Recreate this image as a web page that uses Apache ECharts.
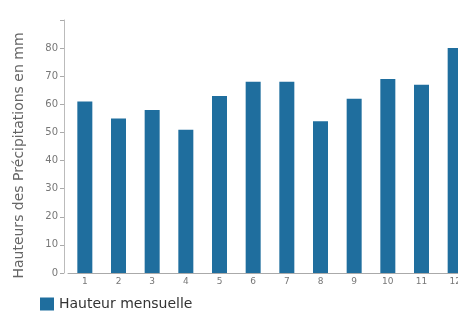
<!DOCTYPE html>
<html>
<head>
<meta charset="utf-8">
<script src="https://cdn.jsdelivr.net/npm/echarts@6/dist/echarts.min.js"></script>
<style>
  html, body { margin: 0; padding: 0; background: #fff; }
  #chart { width: 458px; height: 312px; }
</style>
</head>
<body>
<div id="chart"></div>
<script>
// mois et hauteurs mensuelles (mm)
const months = ['1', '2', '3', '4', '5', '6', '7', '8', '9', '10', '11', '12'];
const rainfall = [61, 55, 58, 51, 63, 68, 68, 54, 62, 69, 67, 80];
const yTicks = [0, 10, 20, 30, 40, 50, 60, 70, 80];

const chart = echarts.init(document.getElementById('chart'));
chart.setOption({
    animation: false,
    textStyle: { fontFamily: 'DejaVu Sans, Liberation Sans, sans-serif' },
    grid: { left: 68, top: 20, bottom: 39, width: 404, outerBoundsMode: 'none', containLabel: false },
    legend: {
        left: 35,
        top: 292,
        icon: 'rect',
        itemWidth: 14,
        itemHeight: 13,
        itemGap: 6,
        textStyle: { fontSize: 14, color: '#333' },
        data: ['Hauteur mensuelle']
    },
    xAxis: {
        type: 'category',
        data: months,
        axisLine: { lineStyle: { color: '#aaa' } },
        axisTick: { show: false },
        axisLabel: { color: '#777', fontSize: 9, margin: 4 }
    },
    yAxis: {
        type: 'value',
        min: 0,
        max: 90,
        interval: 10,
        offset: 4,
        name: 'Hauteurs des Précipitations en mm',
        nameLocation: 'middle',
        nameGap: 38,
        nameTextStyle: { color: '#666', fontSize: 14, padding: [0, 18, 0, 0] },
        axisLine: { show: true, lineStyle: { color: '#bbb' } },
        axisTick: { show: true, length: 4, lineStyle: { color: '#aaa' } },
        splitLine: { show: false },
        axisLabel: {
            color: '#777',
            fontSize: 10,
            margin: 6,
            formatter: v => (yTicks.indexOf(v) >= 0 ? String(v) : '')
        }
    },
    series: [{
        name: 'Hauteur mensuelle',
        type: 'bar',
        data: rainfall,
        barWidth: 15,
        itemStyle: { color: '#1f6e9e' }
    }]
});
</script>
</body>
</html>
